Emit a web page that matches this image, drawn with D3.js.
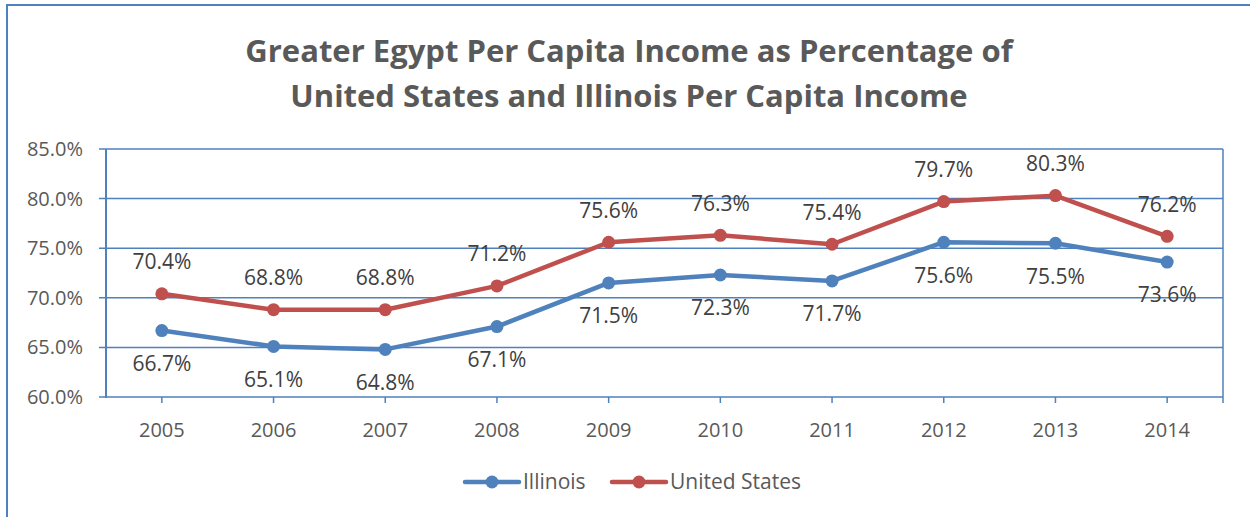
<!DOCTYPE html>
<html>
<head>
<meta charset="utf-8">
<script src="https://cdn.jsdelivr.net/npm/d3@7"></script>
<style>
  body { margin: 0; background: #fff; }
  svg { display: block; font-family: "Open Sans", sans-serif; }
</style>
</head>
<body>
<svg width="1250" height="517"></svg>
<script>
// chart data
const years = ["2005", "2006", "2007", "2008", "2009", "2010", "2011", "2012", "2013", "2014"];
const illinois = [66.7, 65.1, 64.8, 67.1, 71.5, 72.3, 71.7, 75.6, 75.5, 73.6];
const unitedStates = [70.4, 68.8, 68.8, 71.2, 75.6, 76.3, 75.4, 79.7, 80.3, 76.2];
const yTicks = [60, 65, 70, 75, 80, 85];
const titleLines = ["Greater Egypt Per Capita Income as Percentage of", "United States and Illinois Per Capita Income"];

const blue = "#4F81BD", red = "#C0504D", grey = "#595959";

const svg = d3.select("svg");

// outer chart border (runs off the right / bottom edge)
svg.append("rect")
    .attr("x", 7).attr("y", 5)
    .attr("width", 1270).attr("height", 540)
    .attr("fill", "none")
    .attr("stroke", blue)
    .attr("stroke-width", 2);

svg.selectAll(".title").data(titleLines).enter().append("text")
    .attr("class", "title")
    .attr("x", 629)
    .attr("y", (d, i) => 62 + i * 45)
    .attr("text-anchor", "middle")
    .attr("fill", grey)
    .attr("font-weight", "bold")
    .attr("font-size", 31)
    .text(d => d);

const plotL = 106, plotR = 1223, plotT = 149, plotB = 397;

var x = d3.scaleBand().domain(years).range([plotL, plotR]);
var y = d3.scaleLinear().domain([60, 85]).range([plotB, plotT]);
const cx = d => x(d) + x.bandwidth() / 2;

// gridlines
svg.append("g").selectAll("line").data(yTicks).enter().append("line")
    .attr("x1", plotL - 7).attr("x2", plotR)
    .attr("y1", d => y(d)).attr("y2", d => y(d))
    .attr("stroke", blue).attr("stroke-width", 1.5);

// plot frame verticals
svg.append("line").attr("x1", plotL).attr("x2", plotL).attr("y1", plotT).attr("y2", plotB + 1)
    .attr("stroke", blue).attr("stroke-width", 2);
svg.append("line").attr("x1", plotR).attr("x2", plotR).attr("y1", plotT).attr("y2", plotB + 6)
    .attr("stroke", blue).attr("stroke-width", 1.5);

// x tick marks
svg.append("g").selectAll("line").data(years).enter().append("line")
    .attr("x1", d => cx(d)).attr("x2", d => cx(d))
    .attr("y1", plotB).attr("y2", plotB + 6)
    .attr("stroke", blue).attr("stroke-width", 1.5);

// y labels
svg.append("g").selectAll("text").data(yTicks).enter().append("text")
    .attr("x", 83).attr("y", d => y(d))
    .attr("dy", "0.35em")
    .attr("text-anchor", "end")
    .attr("fill", grey).attr("font-size", 20)
    .text(d => d3.format(".1f")(d) + "%");

// x labels
svg.append("g").selectAll("text").data(years).enter().append("text")
    .attr("x", d => cx(d)).attr("y", 430)
    .attr("dy", "0.35em")
    .attr("text-anchor", "middle")
    .attr("fill", grey).attr("font-size", 20)
    .text(d => d);

const series = [
    { name: "Illinois", values: illinois, color: blue, dy: 33 },
    { name: "United States", values: unitedStates, color: red, dy: -32 }
];

const line = d3.line().x((d, i) => cx(years[i])).y(d => y(d));

series.forEach(s => {
    svg.append("path")
        .attr("d", line(s.values))
        .attr("fill", "none")
        .attr("stroke", s.color)
        .attr("stroke-width", 4.5)
        .attr("stroke-linejoin", "round");
    svg.append("g").selectAll("circle").data(s.values).enter().append("circle")
        .attr("cx", (d, i) => cx(years[i]))
        .attr("cy", d => y(d))
        .attr("r", 6.5)
        .attr("fill", s.color);
    svg.append("g").selectAll("text").data(s.values).enter().append("text")
        .attr("x", (d, i) => cx(years[i]))
        .attr("y", d => y(d) + s.dy)
        .attr("dy", "0.35em")
        .attr("text-anchor", "middle")
        .attr("fill", "#404040").attr("font-size", 21)
        .text(d => d3.format(".1f")(d) + "%");
});

// legend
const legendX = [465, 612];
const legend = svg.append("g").selectAll("g").data(series).enter().append("g")
    .attr("transform", (d, i) => `translate(${legendX[i]}, 482)`);
legend.append("line")
    .attr("x1", 0).attr("x2", 54)
    .attr("stroke", d => d.color).attr("stroke-width", 4.5)
    .attr("stroke-linecap", "round");
legend.append("circle").attr("cx", 27).attr("r", 6.5).attr("fill", d => d.color);
legend.append("text")
    .attr("x", 58).attr("dy", "0.35em")
    .attr("fill", grey).attr("font-size", 21)
    .text(d => d.name);
</script>
</body>
</html>
